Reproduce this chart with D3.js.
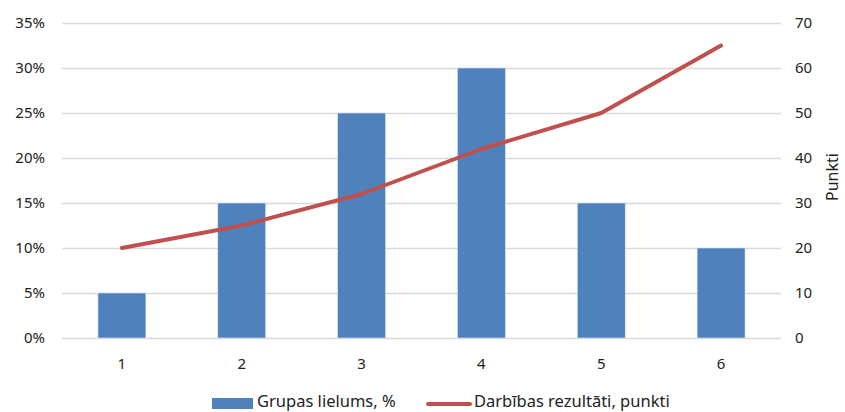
<!DOCTYPE html>
<html><head><meta charset="utf-8">
<script src="https://cdn.jsdelivr.net/npm/d3@7"></script>
<style>body{margin:0;background:#fff}svg{display:block}text{font-family:"Noto Sans",sans-serif;fill:#222}</style>
</head><body><svg id="c" width="845" height="412"></svg>
<script>
const categories = ["1","2","3","4","5","6"];
const groupSize = [5,15,25,30,15,10];          // %
const results = [20,25,32,42,50,65];           // punkti
const leftTicks = [0,5,10,15,20,25,30,35];
const rightTicks = [0,10,20,30,40,50,60,70];
const seriesNames = ["Grupas lielums, %","Darbības rezultāti, punkti"];

const svg = d3.select("#c");
const L=62, R=781, T=23, B=338;
const x = d3.scaleBand().domain(categories).range([L,R]).paddingInner(0.6).paddingOuter(0.3);
const yL = d3.scaleLinear().domain([0,35]).range([B,T]);
const yR = d3.scaleLinear().domain([0,70]).range([B,T]);

// gridlines
svg.append("g").selectAll("line").data(leftTicks).join("line")
  .attr("x1",L).attr("x2",R).attr("y1",d=>Math.round(yL(d))+0.5).attr("y2",d=>Math.round(yL(d))+0.5)
  .attr("stroke","#d9d9d9").attr("stroke-width",1.5);

// left axis
const axL = svg.append("g").attr("transform",`translate(${L},0)`)
  .call(d3.axisLeft(yL).tickValues(leftTicks).tickFormat(d=>d+"%").tickSize(0).tickPadding(17));
axL.select(".domain").remove();
axL.selectAll("text").style("font-size","15px").attr("fill","#222");

// right axis
const axR = svg.append("g").attr("transform",`translate(${R},0)`)
  .call(d3.axisRight(yR).tickValues(rightTicks).tickSize(0).tickPadding(14));
axR.select(".domain").remove();
axR.selectAll("text").style("font-size","15px").attr("fill","#222").attr("text-anchor","start");

// bottom axis
const axB = svg.append("g").attr("transform",`translate(0,${B})`)
  .call(d3.axisBottom(x).tickSize(0).tickPadding(20));
axB.select(".domain").remove();
axB.selectAll("text").style("font-size","15px").attr("fill","#222");

// bars
svg.append("g").selectAll("rect").data(groupSize).join("rect")
  .attr("x",(d,i)=>x(categories[i])).attr("width",x.bandwidth())
  .attr("y",d=>yL(d)).attr("height",d=>B-yL(d))
  .attr("fill","#4f81bd").attr("stroke","#dce6f2").attr("stroke-width",0.6);

// line
const line = d3.line().x((d,i)=>x(categories[i])+x.bandwidth()/2).y(d=>yR(d)).curve(d3.curveLinear);
svg.append("path").datum(results).attr("d",line).attr("fill","none")
  .attr("stroke","#c0504d").attr("stroke-width",4).attr("stroke-linecap","round").attr("stroke-linejoin","round");

// right axis title
svg.append("text").attr("transform",`translate(838,177) rotate(-90)`).attr("text-anchor","middle")
  .style("font-size","16px").text("Punkti");

// legend
const lg = svg.append("g");
lg.append("rect").attr("x",212).attr("y",398).attr("width",41).attr("height",11).attr("fill","#4f81bd");
lg.append("text").attr("x",257).attr("y",407).style("font-size","16.5px").text(seriesNames[0]);
lg.append("line").attr("x1",428).attr("x2",470).attr("y1",404).attr("y2",404)
  .attr("stroke","#c0504d").attr("stroke-width",4).attr("stroke-linecap","round");
lg.append("text").attr("x",474).attr("y",407).style("font-size","16.5px").text(seriesNames[1]);
</script></body></html>
